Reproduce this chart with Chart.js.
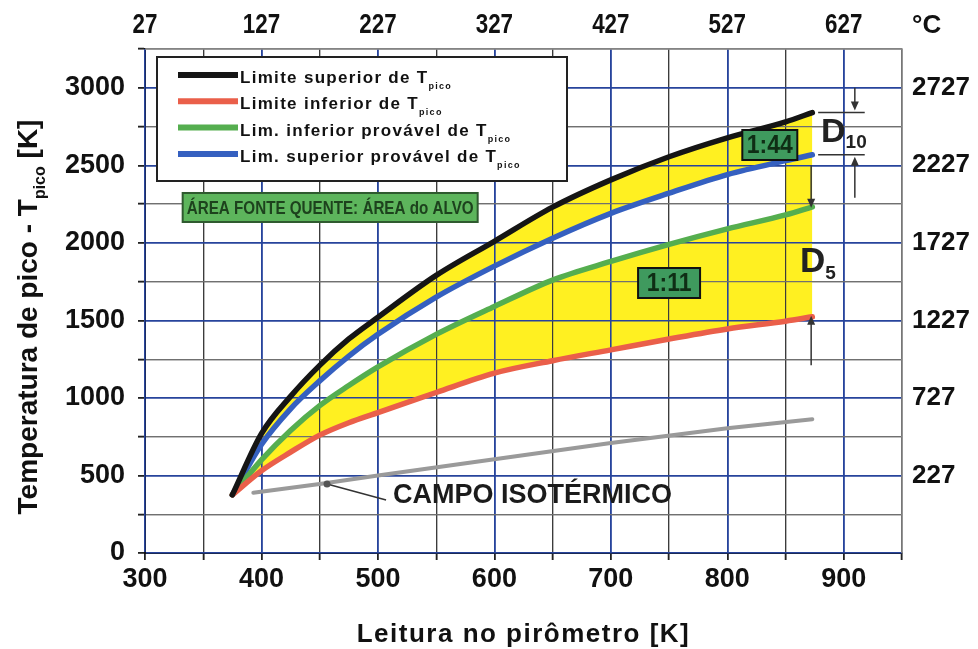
<!DOCTYPE html>
<html>
<head>
<meta charset="utf-8">
<script src="https://cdn.jsdelivr.net/npm/chart.js@4.4.1/dist/chart.umd.min.js"></script>
<style>
  html, body { margin: 0; padding: 0; background: #ffffff; }
  #wrap { width: 978px; height: 649px; }
</style>
</head>
<body>
<div id="wrap"><canvas id="c" width="978" height="649"></canvas></div>
<script>
// Pyrometer reading [K] shared by the four peak-temperature curves
const readingK = [375, 400, 425, 450, 475, 500, 550, 600, 650, 700, 750, 800, 850, 873];
// Peak temperature bounds [K]
const upperLimit    = [375, 770, 1010, 1210, 1380, 1520, 1790, 2010, 2230, 2406, 2555, 2677, 2780, 2840];
const lowerLimit    = [375, 530, 650, 760, 840, 905, 1035, 1160, 1240, 1310, 1380, 1445, 1495, 1523];
const lowerProbable = [375, 600, 790, 950, 1080, 1200, 1410, 1590, 1760, 1880, 1990, 2090, 2180, 2232];
const upperProbable = [375, 700, 930, 1110, 1270, 1410, 1650, 1850, 2030, 2190, 2320, 2440, 2530, 2568];
// Isothermal field line
const isoReadingK = [393, 450, 500, 600, 700, 800, 873];
const isoPeakK    = [388, 445, 500, 605, 710, 805, 862];
// Start of the shaded D strip at the right end of the curves
const stripFromK = 850;

// Axis ticks
const xGridK = [300, 350, 400, 450, 500, 550, 600, 650, 700, 750, 800, 850, 900, 950];
const yGridK = [0, 250, 500, 750, 1000, 1250, 1500, 1750, 2000, 2250, 2500, 2750, 3000, 3250];
const topTickK = [300, 400, 500, 600, 700, 800, 900];
const topTickC = ['27', '127', '227', '327', '427', '527', '627'];
const rightTickK = [500, 1000, 1500, 2000, 2500, 3000];
const rightTickC = ['227', '727', '1227', '1727', '2227', '2727'];

// Legend entries
const legendNames = ['Limite superior de T', 'Limite inferior de T', 'Lim. inferior provável de T', 'Lim. superior provável de T'];
const legendSub = 'pico';

const C_BLACK = '#151515', C_RED = '#ea5f4a', C_GREEN = '#55ae4f', C_BLUE = '#3560c0', C_GRAY = '#9a9a9a';
const C_YELLOW = '#fff021';
const GRID_BLUE = '#27449c', GRID_DARK = '#3c3c3c';
const FONT = "'Liberation Sans', Arial, sans-serif";

const pts = (xs, ys) => xs.map((x, i) => ({ x, y: ys[i] }));
const tail = ys => {
  const i0 = readingK.indexOf(stripFromK);
  return pts(readingK.slice(i0), ys.slice(i0));
};

function curve(data, color, fill) {
  return {
    data, borderColor: color, borderWidth: 5.5, pointRadius: 0,
    cubicInterpolationMode: 'monotone', fill: fill === undefined ? false : fill,
    backgroundColor: C_YELLOW, borderCapStyle: 'round'
  };
}

function fixTicks(list) {
  return scale => { scale.ticks = list.map(v => ({ value: v })); };
}

function textWithSub(ctx, main, sub, x, y, mainFont, subFont, subDrop) {
  ctx.textAlign = 'left';
  ctx.font = mainFont;
  const w1 = ctx.measureText(main).width;
  ctx.fillText(main, x, y);
  ctx.font = subFont;
  ctx.fillText(sub, x + w1, y + subDrop);
}

function arrowV(ctx, x, yFrom, yTo) {
  const dir = yTo > yFrom ? 1 : -1;
  ctx.beginPath();
  ctx.moveTo(x, yFrom);
  ctx.lineTo(x, yTo - dir * 6);
  ctx.stroke();
  ctx.beginPath();
  ctx.moveTo(x, yTo);
  ctx.lineTo(x - 4, yTo - dir * 9);
  ctx.lineTo(x + 4, yTo - dir * 9);
  ctx.closePath();
  ctx.fill();
}

function labelBox(ctx, cx, cy, w, h, text, font, fillC, strokeC, textC, sx) {
  ctx.fillStyle = fillC;
  ctx.fillRect(cx - w / 2, cy - h / 2, w, h);
  ctx.lineWidth = 2;
  ctx.strokeStyle = strokeC;
  ctx.strokeRect(cx - w / 2, cy - h / 2, w, h);
  ctx.save();
  ctx.translate(cx, cy + 1);
  ctx.scale(sx, 1);
  ctx.fillStyle = textC;
  ctx.font = font;
  ctx.textAlign = 'center';
  ctx.textBaseline = 'middle';
  ctx.fillText(text, 0, 0);
  ctx.restore();
}

const decorations = {
  id: 'decorations',
  beforeDraw(chart) {
    const { ctx } = chart;
    ctx.save();
    ctx.fillStyle = '#ffffff';
    ctx.fillRect(0, 0, chart.width, chart.height);
    ctx.restore();
  },
  beforeDatasetsDraw(chart) {
    // grid lines stay visible over the yellow bands
    const ca = chart.chartArea;
    chart.scales.x.drawGrid(ca);
    chart.scales.y.drawGrid(ca);
  },
  afterDraw(chart) {
    const { ctx, chartArea: ca } = chart;
    const xs = chart.scales.x, ys = chart.scales.y, xt = chart.scales.xTop;
    const X = v => xs.getPixelForValue(v), Y = v => ys.getPixelForValue(v);
    const n = readingK.length - 1;
    ctx.save();

    // plot frame
    ctx.lineWidth = 1.5;
    ctx.strokeStyle = '#8a8a8a';
    ctx.beginPath();
    ctx.moveTo(ca.left, ca.top); ctx.lineTo(ca.right, ca.top); ctx.lineTo(ca.right, ca.bottom);
    ctx.stroke();

    // top axis: Celsius labels in a condensed face
    ctx.fillStyle = '#111';
    ctx.textBaseline = 'alphabetic';
    topTickK.forEach((k, i) => {
      ctx.save();
      ctx.translate(xt.getPixelForValue(k), 33);
      ctx.scale(0.8, 1);
      ctx.font = 'bold 28px ' + FONT;
      ctx.textAlign = 'center';
      ctx.fillText(topTickC[i], 0, 0);
      ctx.restore();
    });
    ctx.font = 'bold 26px ' + FONT;
    ctx.textAlign = 'left';
    ctx.fillText('°C', 912, 33);

    // legend
    const lx = ca.left + 12, ly = ca.top + 8, lw = 410, lh = 124;
    ctx.fillStyle = '#ffffff';
    ctx.fillRect(lx, ly, lw, lh);
    ctx.lineWidth = 2;
    ctx.strokeStyle = '#222';
    ctx.strokeRect(lx, ly, lw, lh);
    const colors = [C_BLACK, C_RED, C_GREEN, C_BLUE];
    legendNames.forEach((name, i) => {
      const yy = ly + 18 + i * 26.3;
      ctx.strokeStyle = colors[i];
      ctx.lineWidth = 6;
      ctx.beginPath();
      ctx.moveTo(lx + 21, yy); ctx.lineTo(lx + 81, yy);
      ctx.stroke();
      ctx.fillStyle = '#111';
      ctx.letterSpacing = '1.3px';
      textWithSub(ctx, name, legendSub, lx + 83, yy + 8, 'bold 17px ' + FONT, 'bold 9px ' + FONT, 6);
      ctx.letterSpacing = '0px';
    });

    // hot-source / target area label
    labelBox(ctx, X(459), Y(2228), 295, 29, 'ÁREA FONTE QUENTE: ÁREA do ALVO',
      'bold 19px ' + FONT, '#5db55c', '#2f5a2f', '#1d421d', 0.8);

    // ratio labels
    labelBox(ctx, X(836.5), Y(2631), 55, 30, '1:44', 'bold 25px ' + FONT, '#3f9a5e', '#111', '#0f2e15', 0.92);
    labelBox(ctx, X(750), Y(1741), 62, 30, '1:11', 'bold 25px ' + FONT, '#3f9a5e', '#111', '#0f2e15', 0.92);

    // D10 marker
    ctx.strokeStyle = '#333';
    ctx.fillStyle = '#333';
    ctx.lineWidth = 1.5;
    const yTop = Y(upperLimit[n]), yBlue = Y(upperProbable[n]);
    ctx.beginPath();
    ctx.moveTo(X(878), yTop); ctx.lineTo(X(918), yTop);
    ctx.moveTo(X(878), yBlue); ctx.lineTo(X(918), yBlue);
    ctx.stroke();
    arrowV(ctx, X(909.5), Y(3000), yTop - 2);
    arrowV(ctx, X(909.5), Y(2290), yBlue + 2);
    ctx.fillStyle = '#222';
    textWithSub(ctx, 'D', '10', X(880.5), Y(2650), 'bold 34px ' + FONT, 'bold 19px ' + FONT, 6);

    // D5 marker
    ctx.fillStyle = '#333';
    arrowV(ctx, X(872), Y(2500), Y(lowerProbable[n]) + 1);
    arrowV(ctx, X(872), Y(1210), Y(lowerLimit[n]) - 1);
    ctx.fillStyle = '#222';
    textWithSub(ctx, 'D', '5', X(862.5), Y(1812), 'bold 35px ' + FONT, 'bold 19px ' + FONT, 7);

    // isothermal field label with leader
    ctx.strokeStyle = '#333';
    ctx.lineWidth = 1.5;
    ctx.beginPath();
    ctx.moveTo(X(456.3), Y(445)); ctx.lineTo(X(507), Y(342));
    ctx.stroke();
    ctx.fillStyle = '#555';
    ctx.beginPath();
    ctx.arc(X(456.3), Y(445), 3.5, 0, Math.PI * 2);
    ctx.fill();
    ctx.fillStyle = '#1b1b1b';
    ctx.font = 'bold 27px ' + FONT;
    ctx.textAlign = 'left';
    ctx.textBaseline = 'middle';
    ctx.fillText('CAMPO ISOTÉRMICO', X(513), Y(370));

    // axis titles
    ctx.fillStyle = '#111';
    ctx.textBaseline = 'alphabetic';
    ctx.letterSpacing = '1.5px';
    ctx.font = 'bold 26px ' + FONT;
    ctx.textAlign = 'center';
    ctx.fillText('Leitura no pirômetro [K]', (ca.left + ca.right) / 2, 642);
    ctx.letterSpacing = '0px';

    ctx.save();
    ctx.translate(37, ca.top + 268);
    ctx.rotate(-Math.PI / 2);
    ctx.font = 'bold 28px ' + FONT;
    const a = 'Temperatura de pico - T';
    const b = ' [K]';
    const wa = ctx.measureText(a).width, wb = ctx.measureText(b).width;
    ctx.font = 'bold 16px ' + FONT;
    const ws = ctx.measureText(legendSub).width;
    const x0 = -(wa + ws + wb) / 2;
    ctx.textAlign = 'left';
    ctx.font = 'bold 28px ' + FONT;
    ctx.fillText(a, x0, 0);
    ctx.font = 'bold 16px ' + FONT;
    ctx.fillText(legendSub, x0 + wa, 8);
    ctx.font = 'bold 28px ' + FONT;
    ctx.fillText(b, x0 + wa + ws, 0);
    ctx.restore();

    ctx.restore();
  }
};

const chart = new Chart(document.getElementById('c'), {
  type: 'line',
  data: {
    datasets: [
      curve(pts(readingK, upperLimit), C_BLACK, { target: 3 }),
      curve(pts(readingK, lowerLimit), C_RED),
      curve(pts(readingK, lowerProbable), C_GREEN, { target: 1 }),
      curve(pts(readingK, upperProbable), C_BLUE),
      Object.assign(curve(pts(isoReadingK, isoPeakK), C_GRAY), { borderWidth: 4, cubicInterpolationMode: 'default', tension: 0 }),
      // shaded D strip between the probable bounds at the right end
      Object.assign(curve(tail(upperProbable), 'rgba(0,0,0,0)', { target: 6 }), { borderWidth: 0, order: 1 }),
      Object.assign(curve(tail(lowerProbable), 'rgba(0,0,0,0)'), { borderWidth: 0, order: 1 })
    ]
  },
  options: {
    responsive: false,
    devicePixelRatio: 1,
    animation: false,
    layout: { padding: 0 },
    plugins: {
      legend: { display: false },
      tooltip: { enabled: false },
      filler: { drawTime: 'beforeDatasetsDraw' }
    },
    scales: {
      x: {
        type: 'linear', position: 'bottom', min: 300, max: 950,
        afterBuildTicks: fixTicks(xGridK),
        afterFit: s => { s.height = 96; },
        border: { display: true, color: '#111', width: 2 },
        grid: {
          color: c => (c.tick && c.tick.value % 100 === 0) ? GRID_BLUE : GRID_DARK,
          lineWidth: c => (c.tick && c.tick.value % 100 === 0) ? 1.6 : 1.2,
          tickLength: 7, tickColor: '#222', tickWidth: 1.5
        },
        ticks: {
          autoSkip: false, maxRotation: 0, padding: 3, color: '#111',
          font: { family: FONT, size: 27, weight: 'bold' },
          callback: v => (v % 100 === 0 && v <= 900) ? String(v) : ''
        }
      },
      xTop: {
        type: 'linear', position: 'top', min: 300, max: 950,
        afterBuildTicks: fixTicks(topTickK),
        afterFit: s => { s.height = 49; },
        border: { display: false },
        grid: { drawOnChartArea: false, drawTicks: false },
        ticks: { display: false }
      },
      y: {
        type: 'linear', position: 'left', min: 0, max: 3250,
        afterBuildTicks: fixTicks(yGridK),
        afterFit: s => { s.width = 145; },
        border: { display: true, color: '#111', width: 2 },
        grid: {
          color: c => (c.tick && c.tick.value % 500 === 0) ? GRID_BLUE : '#707070',
          lineWidth: c => (c.tick && c.tick.value % 500 === 0) ? 1.6 : 1.2,
          tickLength: 7, tickColor: '#222', tickWidth: 1.5
        },
        ticks: {
          autoSkip: false, padding: 13, color: '#111',
          font: { family: FONT, size: 27, weight: 'bold' },
          callback: v => (v % 500 === 0 && v <= 3000) ? String(v) : ''
        }
      },
      yRight: {
        type: 'linear', position: 'right', min: 0, max: 3250,
        afterBuildTicks: fixTicks(rightTickK),
        afterFit: s => { s.width = 76; },
        border: { display: false },
        grid: { drawOnChartArea: false, drawTicks: false },
        ticks: {
          autoSkip: false, padding: 10, color: '#111',
          font: { family: FONT, size: 26, weight: 'bold' },
          callback: (v, i) => rightTickC[i]
        }
      }
    }
  },
  plugins: [decorations]
});
</script>
</body>
</html>
